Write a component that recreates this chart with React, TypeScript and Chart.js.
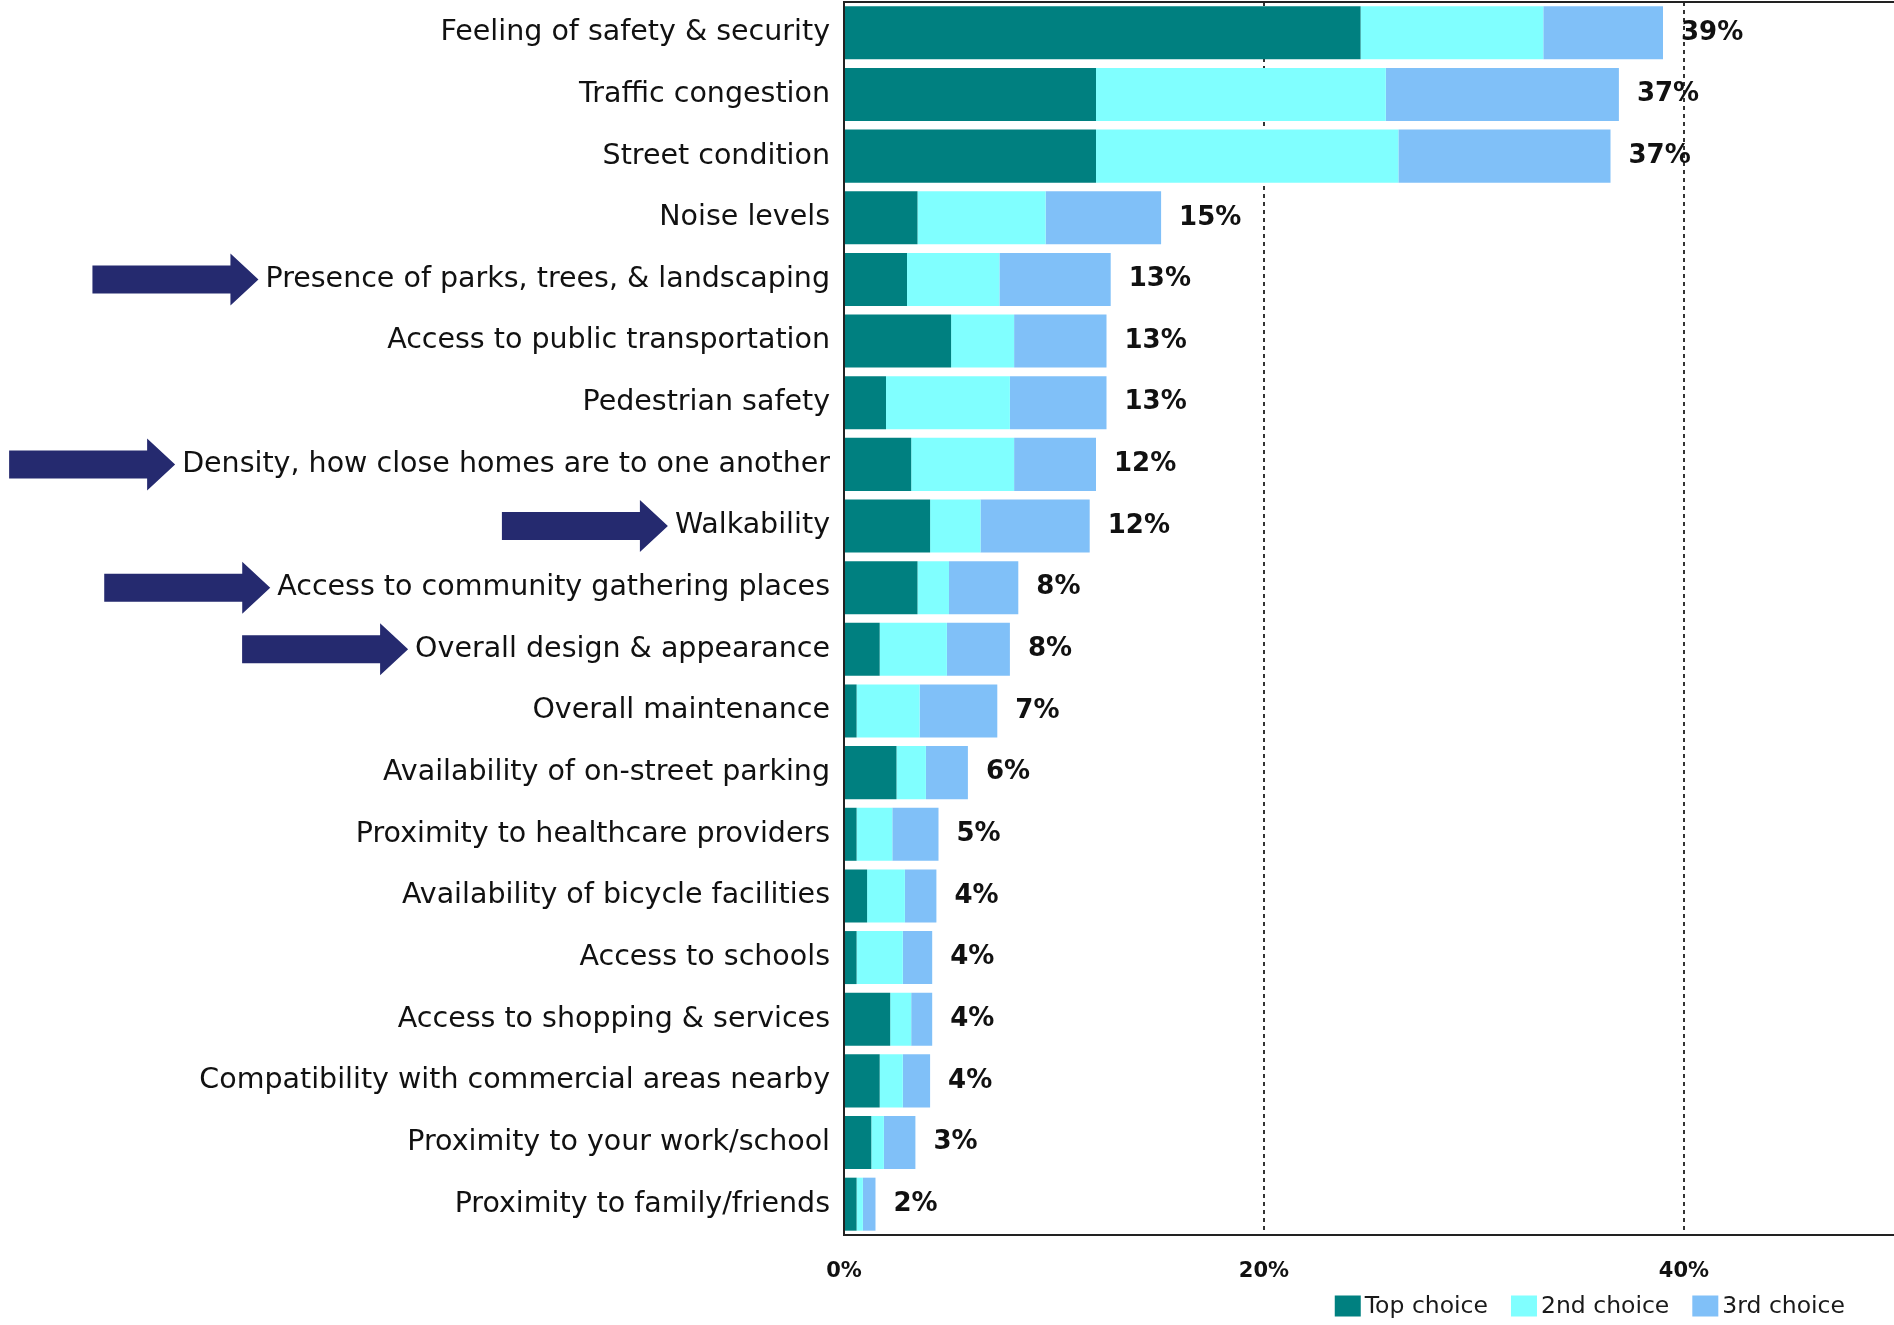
import React, { useEffect, useRef } from "react";
import { Chart, registerables } from "chart.js";

Chart.register(...registerables);

// ---------------- data ----------------
const categories = [
  "Feeling of safety & security",
  "Traffic congestion",
  "Street condition",
  "Noise levels",
  "Presence of parks, trees, & landscaping",
  "Access to public transportation",
  "Pedestrian safety",
  "Density, how close homes are to one another",
  "Walkability",
  "Access to community gathering places",
  "Overall design & appearance",
  "Overall maintenance",
  "Availability of on-street parking",
  "Proximity to healthcare providers",
  "Availability of bicycle facilities",
  "Access to schools",
  "Access to shopping & services",
  "Compatibility with commercial areas nearby",
  "Proximity to your work/school",
  "Proximity to family/friends",
];

const topChoice = [24.6, 12.0, 12.0, 3.5, 3.0, 5.1, 2.0, 3.2, 4.1, 3.5, 1.7, 0.6, 2.5, 0.6, 1.1, 0.6, 2.2, 1.7, 1.3, 0.6];
const secondChoice = [8.7, 13.8, 14.4, 6.1, 4.4, 3.0, 5.9, 4.9, 2.4, 1.5, 3.2, 3.0, 1.4, 1.7, 1.8, 2.2, 1.0, 1.1, 0.6, 0.3];
const thirdChoice = [5.7, 11.1, 10.1, 5.5, 5.3, 4.4, 4.6, 3.9, 5.2, 3.3, 3.0, 3.7, 2.0, 2.2, 1.5, 1.4, 1.0, 1.3, 1.5, 0.6];

const totalLabels = ["39%", "37%", "37%", "15%", "13%", "13%", "13%", "12%", "12%", "8%", "8%", "7%", "6%", "5%", "4%", "4%", "4%", "4%", "3%", "2%"];

const seriesNames = ["Top choice", "2nd choice", "3rd choice"];
const seriesColors = ["#008080", "#80FFFF", "#80C0F8"];

const xTickValues = [0, 20, 40];
const xMax = 50;

const highlighted = [
  "Presence of parks, trees, & landscaping",
  "Density, how close homes are to one another",
  "Walkability",
  "Access to community gathering places",
  "Overall design & appearance",
];

// ---------------- style ----------------
const W = 1894;
const H = 1325;
const FAMILY = '"DejaVu Sans", sans-serif';
const LABEL_SIZE = 28.5;
const LABEL_PAD = 14;
const TOTAL_FONT = `bold 26px ${FAMILY}`;
const LEGEND_FONT = `23.5px ${FAMILY}`;
const ARROW_COLOR = "#252A6F";
const TEXT_COLOR = "#111111";

const framePlugin = {
  id: "frameTop",
  afterDraw(chart: any) {
    const { ctx, chartArea } = chart;
    ctx.save();
    ctx.strokeStyle = "#222";
    ctx.lineWidth = 2;
    ctx.beginPath();
    ctx.moveTo(chartArea.left, chartArea.top);
    ctx.lineTo(chartArea.right, chartArea.top);
    ctx.stroke();
    ctx.restore();
  },
};

const totalsPlugin = {
  id: "totals",
  afterDatasetsDraw(chart: any) {
    const { ctx } = chart;
    const xs = chart.scales.x;
    const ys = chart.scales.y;
    ctx.save();
    ctx.font = TOTAL_FONT;
    ctx.fillStyle = TEXT_COLOR;
    ctx.textAlign = "left";
    ctx.textBaseline = "middle";
    categories.forEach((_, i) => {
      const sum = topChoice[i] + secondChoice[i] + thirdChoice[i];
      const x = xs.getPixelForValue(sum) + 18;
      const y = ys.getPixelForValue(i);
      ctx.fillText(totalLabels[i], x, y);
    });
    ctx.restore();
  },
};

const arrowsPlugin = {
  id: "arrows",
  afterDraw(chart: any) {
    const { ctx } = chart;
    const ys = chart.scales.y;
    ctx.save();
    ctx.font = `${LABEL_SIZE}px ${FAMILY}`;
    ctx.fillStyle = ARROW_COLOR;
    highlighted.forEach((name) => {
      const i = categories.indexOf(name);
      if (i < 0) return;
      const cy = ys.getPixelForValue(i);
      const w = ctx.measureText(name).width;
      const tip = ys.right - LABEL_PAD - w - 7;
      const len = 166;
      const headLen = 28;
      const shaftH = 14;
      const headH = 26;
      const left = tip - len;
      const base = tip - headLen;
      ctx.beginPath();
      ctx.moveTo(left, cy - shaftH);
      ctx.lineTo(base, cy - shaftH);
      ctx.lineTo(base, cy - headH);
      ctx.lineTo(tip, cy);
      ctx.lineTo(base, cy + headH);
      ctx.lineTo(base, cy + shaftH);
      ctx.lineTo(left, cy + shaftH);
      ctx.closePath();
      ctx.fill();
    });
    ctx.restore();
  },
};

const legendPlugin = {
  id: "customLegend",
  afterDraw(chart: any) {
    const { ctx } = chart;
    const boxW = 26;
    const boxH = 21;
    const boxGap = 4;
    const itemGap = 23;
    const right = 1845;
    const cy = 1306;
    ctx.save();
    ctx.font = LEGEND_FONT;
    const widths = seriesNames.map((n) => ctx.measureText(n).width);
    const total = widths.reduce((a, w) => a + boxW + boxGap + w, 0) + itemGap * (seriesNames.length - 1);
    let x = right - total;
    ctx.textBaseline = "middle";
    ctx.textAlign = "left";
    seriesNames.forEach((n, i) => {
      ctx.fillStyle = seriesColors[i];
      ctx.fillRect(x, cy - boxH / 2, boxW, boxH);
      x += boxW + boxGap;
      ctx.fillStyle = "#1a1a1a";
      ctx.fillText(n, x, cy + 1);
      x += widths[i] + itemGap;
    });
    ctx.restore();
  },
};

export default function App() {
  const ref = useRef<HTMLCanvasElement | null>(null);

  useEffect(() => {
    if (!ref.current) return;
    const seriesData = [topChoice, secondChoice, thirdChoice];
    const chart = new Chart(ref.current, {
      type: "bar",
      data: {
        labels: categories,
        datasets: seriesNames.map((name, i) => ({
          label: name,
          data: seriesData[i],
          backgroundColor: seriesColors[i],
          borderWidth: 0,
          barPercentage: 0.86,
          categoryPercentage: 1,
        })),
      },
      options: {
        indexAxis: "y",
        responsive: false,
        animation: false,
        devicePixelRatio: 1,
        layout: { padding: { top: 2, left: 0, right: 0, bottom: 0 } },
        plugins: {
          legend: { display: false },
          tooltip: { enabled: false },
        },
        scales: {
          x: {
            type: "linear",
            stacked: true,
            min: 0,
            max: xMax,
            afterBuildTicks(scale: any) {
              scale.ticks = xTickValues.map((v) => ({ value: v }));
            },
            afterFit(scale: any) {
              scale.height = 90;
              scale.paddingLeft = 0;
              scale.paddingRight = 0;
            },
            ticks: {
              callback: (v: any) => `${v}%`,
              font: { family: FAMILY, size: 21, weight: "bold" },
              color: TEXT_COLOR,
              padding: 24,
              maxRotation: 0,
            },
            grid: {
              drawTicks: false,
              lineWidth: 2,
              color: (c: any) =>
                c.tick && (c.tick.value === 20 || c.tick.value === 40) ? "#333" : "rgba(0,0,0,0)",
            },
            border: { display: true, color: "#222", width: 2, dash: [4, 4] },
          },
          y: {
            stacked: true,
            afterFit(scale: any) {
              scale.width = 844;
              scale.paddingTop = 0;
              scale.paddingBottom = 0;
            },
            ticks: {
              font: { family: FAMILY, size: LABEL_SIZE },
              color: TEXT_COLOR,
              padding: LABEL_PAD,
              autoSkip: false,
            },
            grid: { display: false, drawTicks: false },
            border: { display: true, color: "#222", width: 2 },
          },
        },
      },
      plugins: [framePlugin, totalsPlugin, arrowsPlugin, legendPlugin],
    });
    return () => chart.destroy();
  }, []);

  return (
    <div style={{ position: "absolute", left: 0, top: 0, width: W, height: H, background: "#fff" }}>
      <canvas ref={ref} width={W} height={H} style={{ display: "block", width: W, height: H }} />
    </div>
  );
}
